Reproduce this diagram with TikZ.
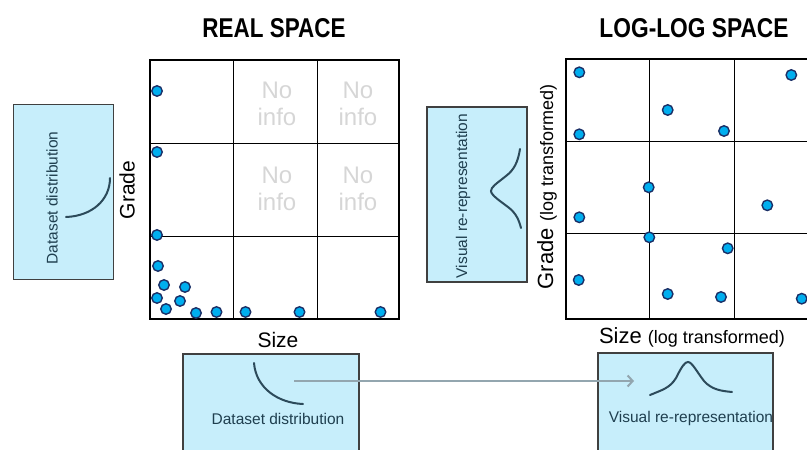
\documentclass[tikz,border=0pt]{standalone}
\usepackage{fontspec}
\setmainfont{Liberation Sans}
\usetikzlibrary{arrows.meta}
\definecolor{boxfill}{HTML}{C7EEFB}
\definecolor{boxedge}{HTML}{404040}
\definecolor{curvec}{HTML}{2C4A5A}
\definecolor{dotfill}{HTML}{00AEEF}
\definecolor{dotedge}{HTML}{1B2F66}
\definecolor{noinfo}{HTML}{D6D6D6}
\definecolor{arrowc}{HTML}{93A6AF}
\definecolor{textc}{HTML}{1F3F4F}
\begin{document}
\begin{tikzpicture}[x=1pt,y=-1pt,
 infobox/.style={draw=boxedge,fill=boxfill,line width=1.5pt,inner sep=0pt},
 dot/.style={circle,draw=dotedge,fill=dotfill,line width=1.4pt,minimum size=10.5pt,inner sep=0pt},
 curve/.style={draw=curvec,line width=2pt,line cap=round},
 gridouter/.style={draw=black,line width=2.2pt},
 gridinner/.style={draw=black,line width=1pt},
 noinfotext/.style={text=noinfo,font=\fontsize{24}{27}\selectfont,align=center,inner sep=0pt},
 boxtext/.style={text=textc,font=\fontsize{15.5}{18}\selectfont,inner sep=0pt},
 axislabel/.style={font=\fontsize{21}{24}\selectfont,inner sep=0pt},
 titletext/.style={font=\bfseries,inner sep=0pt},
]
\useasboundingbox (0,0) rectangle (807,450);
\clip (0,0) rectangle (807,450);

% titles
\node[titletext] (t1) at (274,28) {\resizebox{143pt}{19pt}{REAL SPACE}};
\node[titletext] (t2) at (694,28) {\resizebox{189pt}{19pt}{LOG-LOG SPACE}};

% side boxes
\node[infobox,minimum width=100pt,minimum height=175pt] (lbox) at (63.3,191.9) {};
\node[boxtext,rotate=90] (ltext) at (52,198) {Dataset distribution};
\draw[curve] (66,217) .. controls (92,216) and (110,200) .. (110,178);

\node[infobox,minimum width=100pt,minimum height=175pt] (mbox) at (477,194.5) {};
\node[boxtext,rotate=90] (mtext) at (463,196) {Visual re-representation};
\draw[curve] (520,149) .. controls (518,162) and (514,170) .. (506,176)
  .. controls (496,184) and (491,187) .. (491,191)
  .. controls (491,195) and (500,201) .. (508,207)
  .. controls (516,213) and (519,220) .. (521,228);

% bottom boxes
\node[infobox,minimum width=176pt,minimum height=106pt] (bl) at (271,407) {};
\node[boxtext] (bltext) at (278,419) {Dataset distribution};
\draw[curve] (254,363) .. controls (256,388) and (278,403) .. (303,404);

\node[infobox,minimum width=175pt,minimum height=107pt] (br) at (685.5,406.5) {};
\node[boxtext] (brtext) at (691,418) {Visual re-representation};
\draw[curve] (650,395) .. controls (662,390) and (670,388) .. (676,378)
  .. controls (682,366) and (685,362) .. (688,362)
  .. controls (692,362) and (697,372) .. (704,381)
  .. controls (712,390) and (722,391) .. (732,392);

\coordinate (as) at (294,381);
\coordinate (ae) at (634,381);
\draw[draw=arrowc,line width=2pt,-{Straight Barb[length=5pt,width=11pt]}] (as) -- (ae);

% left grid
\draw[gridinner] (233,60) -- (233,319) (317,60) -- (317,319)
  (150,143) -- (399,143) (150,236) -- (399,236);
\draw[gridouter] (150,60) rectangle (399,319);
\node[noinfotext] (n1) at (277,104) {No\\info};
\node[noinfotext] (n2) at (358,104) {No\\info};
\node[noinfotext] (n3) at (277,189) {No\\info};
\node[noinfotext] (n4) at (358,189) {No\\info};
\node[axislabel] (lsize) at (278,340) {Size};
\node[axislabel,rotate=90] (lgrade) at (127,190) {Grade};

\foreach \p [count=\i] in {(157,91),(157,152),(157,235),(158,266),(164,285),(185,287),
  (157,298),(180,301),(166,309),(196,313),(216.5,312),(245.5,312),(299.5,312),(380.5,312)}
  \node[dot] (ld\i) at \p {};

% right grid
\draw[gridinner] (649,59) -- (649,319) (734,59) -- (734,319)
  (566,141) -- (819,141) (566,233) -- (819,233);
\draw[gridouter] (566,59) rectangle (819,319);
\node[axislabel,font=\fontsize{22}{24}\selectfont] (rsize) at (692,337) {Size {\fontsize{18}{20}\selectfont(log transformed)}};
\node[axislabel,font=\fontsize{22}{24}\selectfont,rotate=90] (rgrade) at (547,187) {Grade {\fontsize{18}{20}\selectfont(log transformed)}};

\foreach \p [count=\i] in {(579.3,72.3),(791.3,75),(667.7,110),(724,131),(579.3,134.3),
  (648.7,187.3),(767.3,205.3),(579.3,217.3),(649.3,237.3),(727.7,248.3),
  (578.7,280),(667.7,294),(721,297),(801.7,298.7)}
  \node[dot] (rd\i) at \p {};
\end{tikzpicture}
\end{document}
